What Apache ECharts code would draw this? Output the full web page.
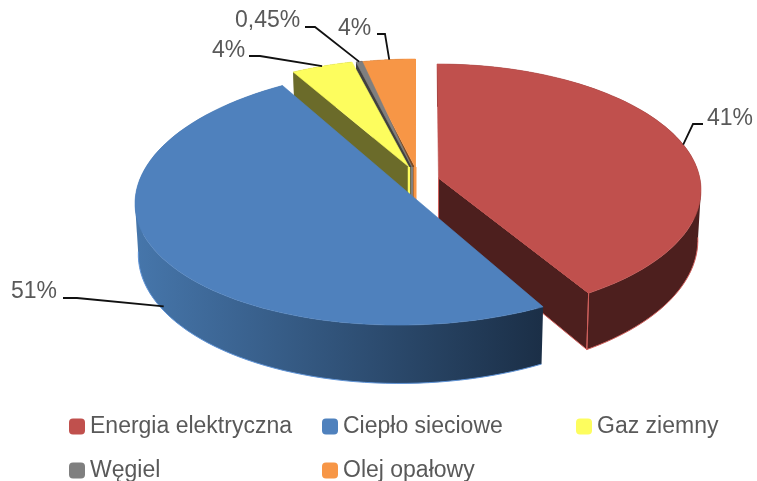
<!DOCTYPE html>
<html><head><meta charset="utf-8">
<style>html,body{margin:0;padding:0;background:#fff}#c{width:757px;height:481px}</style>
<script src="https://cdn.jsdelivr.net/npm/echarts@6/dist/echarts.min.js"></script>
</head><body><div id="c"></div>
<script>
const names = ['Energia elektryczna','Ciepło sieciowe','Gaz ziemny','Węgiel','Olej opałowy'];
const values = [41,51,4,0.45,4];
const labels = ['41%','51%','4%','0,45%','4%'];
const topColors = ['#c0504d','#4f81bd','#fdfd5e','#7f7f7f','#f79646'];
const total = 100;
const blueWall = {type:'linear',x:135,y:0,x2:541,y2:0,global:true,colorStops:[{offset:0,color:'#4676ab'},{offset:1,color:'#1b2f47'}]};
// projected geometry of each exploded slice (perspective of the original 3D pie)
const layout = [
 {cx:437,cy:190,rx:264,ryUp:126,ryDown:126,shear:0,ax:438.5,ay:178,tStart:0,k:0.982,wall:'#4d1f1e',edge:'#d0605c',apexW:0,frac:0.475,drop:0,elbow:[[693,124],[703,124]],tx:707,ty:119},
 {cx:411,cy:198,rx:276,ryUp:130,ryDown:127,shear:0.02,ax:411,ay:195,tStart:151.4,k:0.985,wall:blueWall,edge:'#5f93d6',apexW:0,frac:0.51,drop:47,elbow:[[77,298],[63,298]],tx:11,ty:292},
 {cx:409,cy:200,rx:276,ryUp:141,ryDown:141,shear:0,ax:409,ay:167,tStart:335.2,k:0.895,wall:'#6b6b2a',edge:'#fdfd5e',apexW:2.5,frac:0.5,drop:0,elbow:[[260,56],[249,56]],tx:212,ty:51},
 {cx:412,cy:200,rx:276,ryUp:141,ryDown:141,shear:0,ax:412,ay:167,tStart:348.3,k:0.8,wall:'#404040',edge:'#7f7f7f',apexW:2,frac:0.5,drop:0,elbow:[[315,27],[305,27]],tx:235,ty:21},
 {cx:415,cy:200,rx:276,ryUp:141,ryDown:141,shear:0,ax:415,ay:167,tStart:348.5,k:0.805,wall:'#7c4b23',edge:'#f79646',apexW:3,frac:0.53,drop:0,elbow:[[385,34],[377,34]],tx:338,ty:29}
];
const legendSpots = [[69,415],[322,415],[576,415],[69,459],[322,459]];
const drawOrder = [4,3,2,0,1];
const rad = d => d*Math.PI/180;
function pt(l,t){
  const s=Math.sin(rad(t)),c=Math.cos(rad(t)),dx=l.rx*s;
  return [l.cx+dx, l.cy-(c>=0?l.ryUp:l.ryDown)*c-l.shear*dx];
}
function bot(l,p){
  return [l.cx+(p[0]-l.cx)*0.988, p[1]+49.5+0.06*(p[1]-178)];
}
function makeRender(i){
  return function(params,api){
    const l=layout[i], sweep=api.value(0)/total*360*l.k, t0=l.tStart, t1=t0+sweep;
    const arc=[], angles=[]; const n=80;
    for(let j=0;j<=n;j++){ const t=t0+sweep*j/n; angles.push(t); arc.push(pt(l,t)); }
    const apex=[l.ax,l.ay], kids=[];
    const poly=(points,fill,stroke,w)=>({type:'polygon',shape:{points},style:{fill,stroke:stroke||null,lineWidth:w||0},silent:true});
    const line=(points,stroke,w)=>({type:'polyline',shape:{points},style:{stroke,lineWidth:w,fill:null},silent:true});
    kids.push(poly(arc.concat(arc.map(p=>bot(l,p)).reverse()),l.wall));
    // fill the silhouette where the rim turns round at the far left and right
    for(const e of [90,270]){
      if(t0<e && t1>e){
        const b=pt(l,e), f=pt(l,e===90?e+14:e-14);
        kids.push(poly([b,bot(l,b),bot(l,f),f],l.wall));
      }
    }
    if(Math.sin(rad(t0))<-1e-6) kids.push(poly([apex,arc[0],bot(l,arc[0]),bot(l,apex)],l.wall));
    if(Math.sin(rad(t1))>1e-6){
      kids.push(poly([apex,arc[n],bot(l,arc[n]),bot(l,apex)],l.wall,l.edge,1));
      kids.push(line([arc[n],bot(l,arc[n])],l.edge,1));
    }
    const front=arc.filter((p,j)=>Math.cos(rad(angles[j]))<=0.05).map(p=>bot(l,p));
    if(front.length>1) kids.push(line(front,l.edge,1));
    kids.push(poly([apex].concat(arc),topColors[i],topColors[i],0.6));
    if(l.apexW) kids.push(line([apex,bot(l,apex)],l.edge,l.apexW));
    const m=pt(l,t0+sweep*l.frac); m[1]+=l.drop;
    kids.push({type:'polyline',shape:{points:[m].concat(l.elbow)},style:{stroke:'#111',lineWidth:1.8,fill:null},silent:true,z2:50});
    kids.push({type:'text',style:{x:l.tx,y:l.ty,text:labels[i],fill:'#595959',font:'23px "Liberation Sans", Arial, sans-serif',textAlign:'left',textVerticalAlign:'middle'},silent:true,z2:50});
    return {type:'group',children:kids};
  };
}
const series = drawOrder.map((i,order)=>({
  type:'custom',name:names[i],coordinateSystem:'none',silent:true,animation:false,
  itemStyle:{color:topColors[i]},z:2+order,
  renderItem:makeRender(i),data:[values[i]],encode:{value:0}
}));
const legendBase={itemWidth:16,itemHeight:16,icon:'roundRect',selectedMode:false,padding:0,
  textStyle:{color:'#595959',fontFamily:'"Liberation Sans", Arial, sans-serif',fontSize:23}};
const chart=echarts.init(document.getElementById('c'),null,{renderer:'canvas'});
chart.setOption({animation:false,backgroundColor:'#fff',
  legend:names.map((name,i)=>Object.assign({},legendBase,{left:legendSpots[i][0],top:legendSpots[i][1],data:[name]})),
  series});
</script></body></html>
